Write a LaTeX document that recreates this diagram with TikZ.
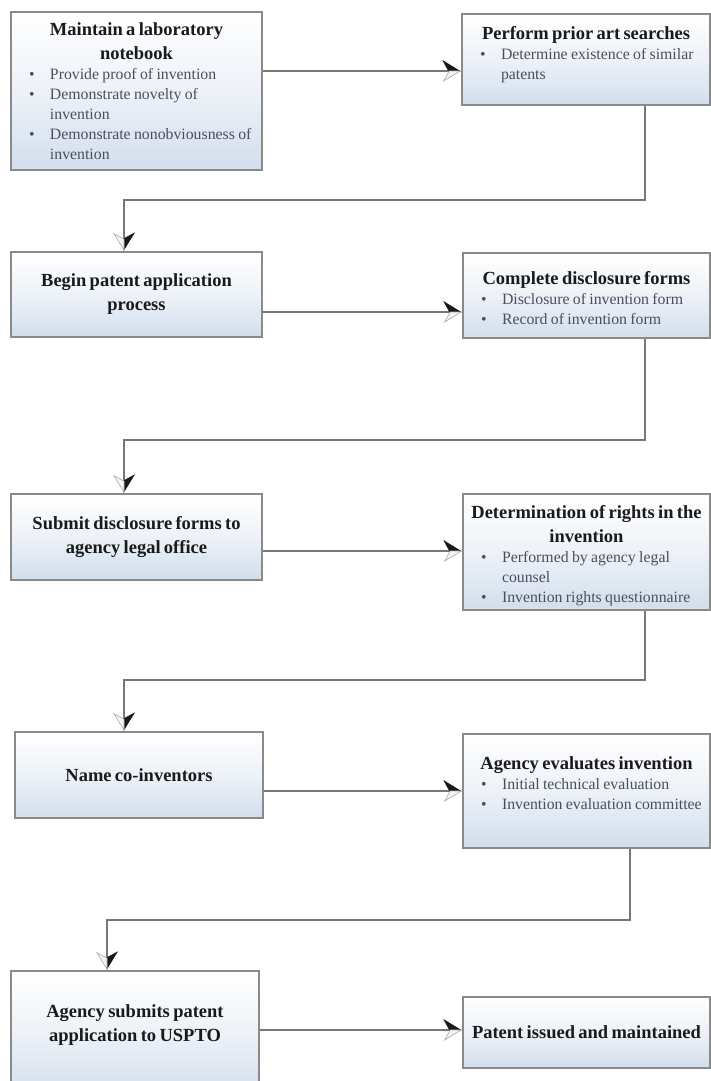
\documentclass[tikz,border=0pt]{standalone}
\usepackage{fontspec}
\setmainfont{Liberation Serif}
\usetikzlibrary{arrows.meta}
\definecolor{linecol}{HTML}{777777}
\definecolor{boxline}{HTML}{8A8A8A}
\definecolor{boxbot}{HTML}{D2DEED}
\definecolor{titlecol}{HTML}{1A1A1A}
\definecolor{bulcol}{HTML}{4A4E5E}
\newcommand{\boxtitle}[1]{{\centering\fontsize{18.5}{24}\selectfont\bfseries\color{titlecol}#1\par}}
\newcommand{\boxbullet}[1]{{\raggedright\fontsize{15.8}{20}\selectfont\color{bulcol}\hangindent=36pt\hangafter=1\noindent\makebox[36pt][l]{\hspace{15pt}\textbullet}#1\par}}
\newcommand{\padbot}[1]{\par\vskip#1\relax\nointerlineskip\hbox{}}
\tikzset{
  box/.style={draw=boxline, line width=1.3pt, top color=white, bottom color=boxbot, middle color=boxbot!40,
    inner xsep=3pt, inner ysep=0pt},
  arr/.style={draw=linecol, line width=1.5pt,
    -{Stealth[left, length=18pt, width=22pt, inset=6pt, fill=black!90, color=black!90, line width=0.6pt, sep=-18pt]
      Stealth[right, length=18pt, width=22pt, inset=6pt, fill=gray!8, color=gray!60, line width=0.7pt]}}
}
\begin{document}
\begin{tikzpicture}[x=1pt,y=-1pt]
\useasboundingbox (0,0) rectangle (711,1081);
\clip (0,0) rectangle (711,1081);
\fill[white] (0,0) rectangle (711,1081);
% left column
\node[box, minimum width=251pt, minimum height=158pt, text width=245pt] (b1) at (136.5,91)
  {\boxtitle{Maintain a laboratory\\notebook}\boxbullet{Provide proof of invention}\boxbullet{Demonstrate novelty of\newline invention}\boxbullet{Demonstrate nonobviousness of\newline invention}};
\node[box, minimum width=251pt, minimum height=85pt, text width=245pt] (b3) at (136.5,294.5)
  {\boxtitle{Begin patent application\\process}};
\node[box, minimum width=251pt, minimum height=86pt, text width=245pt] (b5) at (136.5,537)
  {\boxtitle{Submit disclosure forms to\\agency legal office}};
\node[box, minimum width=248pt, minimum height=86pt, text width=242pt] (b7) at (139,775)
  {\boxtitle{Name co-inventors}};
\node[box, minimum width=248pt, minimum height=124pt, text width=242pt] (b9) at (135,1033)
  {\boxtitle{Agency submits patent\\application to USPTO}\padbot{16pt}};
% right column
\node[box, minimum width=248pt, minimum height=91pt, text width=242pt] (b2) at (586,59.5)
  {\boxtitle{Perform prior art searches}\boxbullet{Determine existence of similar\newline patents}\padbot{10pt}};
\node[box, minimum width=247pt, minimum height=85pt, text width=241pt] (b4) at (586.5,295.5)
  {\boxtitle{Complete disclosure forms}\boxbullet{Disclosure of invention form}\boxbullet{Record of invention form}\padbot{-6pt}};
\node[box, minimum width=247pt, minimum height=116pt, text width=241pt] (b6) at (586.5,552)
  {\boxtitle{Determination of rights in the\\invention}\boxbullet{Performed by agency legal\newline counsel}\boxbullet{Invention rights questionnaire}\padbot{-8pt}};
\node[box, minimum width=247pt, minimum height=114pt, text width=241pt] (b8) at (586.5,791)
  {\boxtitle{Agency evaluates invention}\boxbullet{Initial technical evaluation}\boxbullet{Invention evaluation committee}\padbot{16pt}};
\node[box, minimum width=247pt, minimum height=71pt, text width=241pt] (b10) at (586.5,1032.5)
  {\boxtitle{Patent issued and maintained}};
% helper coordinates
\coordinate (h1) at (0,71);
\coordinate (h2) at (0,312);
\coordinate (h3) at (0,551);
\coordinate (h4) at (0,791);
\coordinate (h5) at (0,1030);
\coordinate (k1) at (645,200); \coordinate (m1) at (124,200);
\coordinate (k2) at (645,440); \coordinate (m2) at (124,440);
\coordinate (k3) at (645,680); \coordinate (m3) at (124,680);
\coordinate (k4) at (630,920); \coordinate (m4) at (107,920);
% horizontal arrows
\draw[arr] (b1.east |- h1) -- (b2.west |- h1);
\draw[arr] (b3.east |- h2) -- (b4.west |- h2);
\draw[arr] (b5.east |- h3) -- (b6.west |- h3);
\draw[arr] (b7.east |- h4) -- (b8.west |- h4);
\draw[arr] (b9.east |- h5) -- (b10.west |- h5);
% return connectors
\draw[arr] (b2.south -| k1) |- (m1) -- (b3.north -| m1);
\draw[arr] (b4.south -| k2) |- (m2) -- (b5.north -| m2);
\draw[arr] (b6.south -| k3) |- (m3) -- (b7.north -| m3);
\draw[arr] (b8.south -| k4) |- (m4) -- (b9.north -| m4);
\end{tikzpicture}
\end{document}
